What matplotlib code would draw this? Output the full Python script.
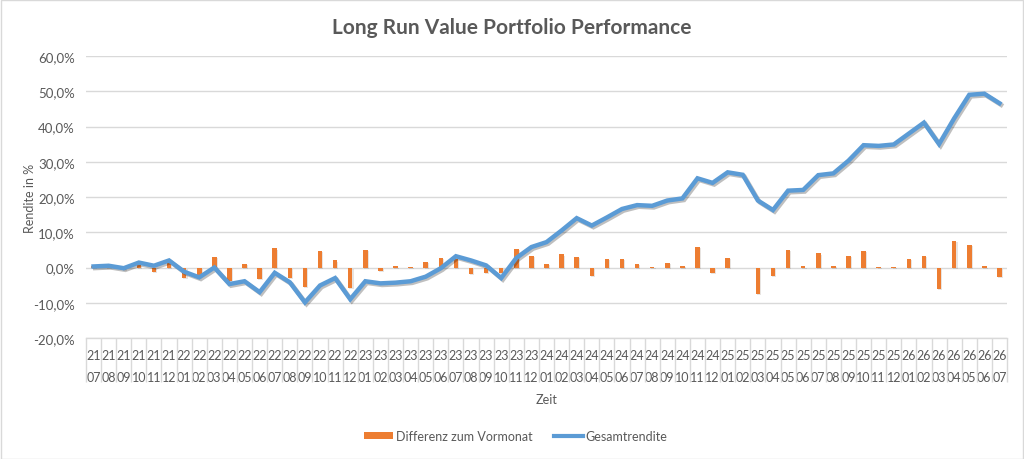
import numpy as np
import matplotlib
matplotlib.use("Agg")
import matplotlib.pyplot as plt
from matplotlib.patches import Rectangle, Patch
from matplotlib.lines import Line2D
import matplotlib.patheffects as pe

plt.rcParams['font.family'] = ['Lato', 'DejaVu Sans']

periods = ["2107", "2108", "2109", "2110", "2111", "2112",
           "2201", "2202", "2203", "2204", "2205", "2206", "2207", "2208", "2209", "2210", "2211", "2212",
           "2301", "2302", "2303", "2304", "2305", "2306", "2307", "2308", "2309", "2310", "2311", "2312",
           "2401", "2402", "2403", "2404", "2405", "2406", "2407", "2408", "2409", "2410", "2411", "2412",
           "2501", "2502", "2503", "2504", "2505", "2506", "2507", "2508", "2509", "2510", "2511", "2512",
           "2601", "2602", "2603", "2604", "2605", "2606", "2607"]

diff = [0.3, 0.2, -0.7, 0.8, -1.3, 1.2, -3.0, -2.3, 2.9, -3.7, 0.9,
        -3.3, 5.4, -3.0, -5.4, 4.8, 2.0, -5.8, 5.0, -0.9, 0.3,
        0.2, 1.6, 2.8, 2.5, -1.8, -1.5, -1.6, 5.2, 3.4, 1.1,
        3.7, 3.0, -2.3, 2.5, 2.5, 1.0, 0.1, 1.4, 0.5, 5.8,
        -1.5, 2.8, -0.1, -7.4, -2.5, 5.1, 0.3, 4.0, 0.5, 3.2,
        4.7, 0.1, 0.2, 2.5, 3.2, -6.2, 7.5, 6.4, 0.3, -2.6]

total = [0.3, 0.5, -0.2, 1.4, 0.5, 2.0, -1.2, -2.8, 0.0, -4.7, -3.9,
         -7.0, -1.5, -4.2, -9.9, -5.1, -3.0, -9.0, -3.9, -4.5, -4.3,
         -3.9, -2.6, -0.2, 3.2, 2.0, 0.6, -3.0, 2.7, 5.8, 7.2,
         10.5, 14.0, 11.9, 14.2, 16.6, 17.7, 17.5, 19.0, 19.6, 25.3,
         24.0, 27.0, 26.3, 19.0, 16.3, 21.8, 22.0, 26.2, 26.7, 30.3,
         34.7, 34.5, 34.9, 38.0, 41.1, 35.0, 42.3, 49.0, 49.3, 46.6]

yticks = [-20, -10, 0, 10, 20, 30, 40, 50, 60]

title = "Long Run Value Portfolio Performance"
ylabel = "Rendite in %"
xlabel = "Zeit"
legend_labels = ["Differenz zum Vormonat", "Gesamtrendite"]

TXT = '#595959'
GRID = '#D9D9D9'
ORANGE = '#ED7D31'
BLUE = '#5B9BD5'

W, H = 1024, 460
fig = plt.figure(figsize=(W / 100, H / 100), dpi=100)
fig.patches.append(Rectangle((0.5 / W, 0.5 / H), 1 - 1.5 / W, 1 - 1.5 / H,
                             transform=fig.transFigure, fill=False,
                             edgecolor=GRID, lw=1))

ax_l, ax_r, ax_t, ax_b = 86, 1007, 57, 339
ax = fig.add_axes([ax_l / W, 1 - ax_b / H, (ax_r - ax_l) / W, (ax_b - ax_t) / H])
x = np.arange(len(periods))

ax.bar(x, diff, width=0.3, color=ORANGE, zorder=2,
       path_effects=[pe.SimplePatchShadow(offset=(0.8, -0.8), alpha=0.12), pe.Normal()])
ax.plot(x, total, color=BLUE, lw=3.2, zorder=3, solid_joinstyle='miter',
        path_effects=[pe.SimpleLineShadow(offset=(1.2, -1.2), alpha=0.25), pe.Normal()])

ax.set_xlim(-0.5, len(periods) - 0.5)
ax.set_ylim(min(yticks), max(yticks))
ax.set_yticks(yticks)
ax.set_yticklabels([f"{v:.1f}%".replace('.', ',') for v in yticks])
ax.grid(axis='y', color=GRID, lw=1, zorder=0)
ax.set_axisbelow(True)

for s in ['top', 'right', 'left']:
    ax.spines[s].set_visible(False)
ax.spines['bottom'].set_color(GRID)
ax.spines['bottom'].set_linewidth(1)

ax.set_xticks(x)
ax.set_xticklabels([p[:2] + "\n" + p[2:] for p in periods], linespacing=2.0)
ax.set_xticks(np.arange(-0.5, len(periods), 1.0), minor=True)
ax.tick_params(axis='x', which='major', length=0, pad=8, labelsize=9, labelcolor=TXT)
ax.tick_params(axis='x', which='minor', length=32, width=1, color=GRID, direction='out')
ax.tick_params(axis='y', length=0, pad=8, labelsize=9.5, labelcolor=TXT)

ax.set_xlabel(xlabel, fontsize=9, color=TXT, labelpad=4)
ax.set_ylabel(ylabel, fontsize=9, color=TXT)
ax.yaxis.set_label_coords((36 - ax_l) / (ax_r - ax_l), 0.5)

fig.text(0.5, 1 - 28 / H, title, ha='center', va='center', fontsize=15,
         fontweight='bold', color=TXT)

handles = [Patch(facecolor=ORANGE, edgecolor='none'),
           Line2D([0], [0], color=BLUE, lw=3)]
fig.legend(handles, legend_labels, loc='center', bbox_to_anchor=(516 / W, 1 - 437 / H),
           ncol=2, frameon=False, fontsize=9, handlelength=2.3, handleheight=0.4,
           handletextpad=0.25, columnspacing=1.7, labelcolor=TXT)

fig.savefig("out.png", dpi=100)
